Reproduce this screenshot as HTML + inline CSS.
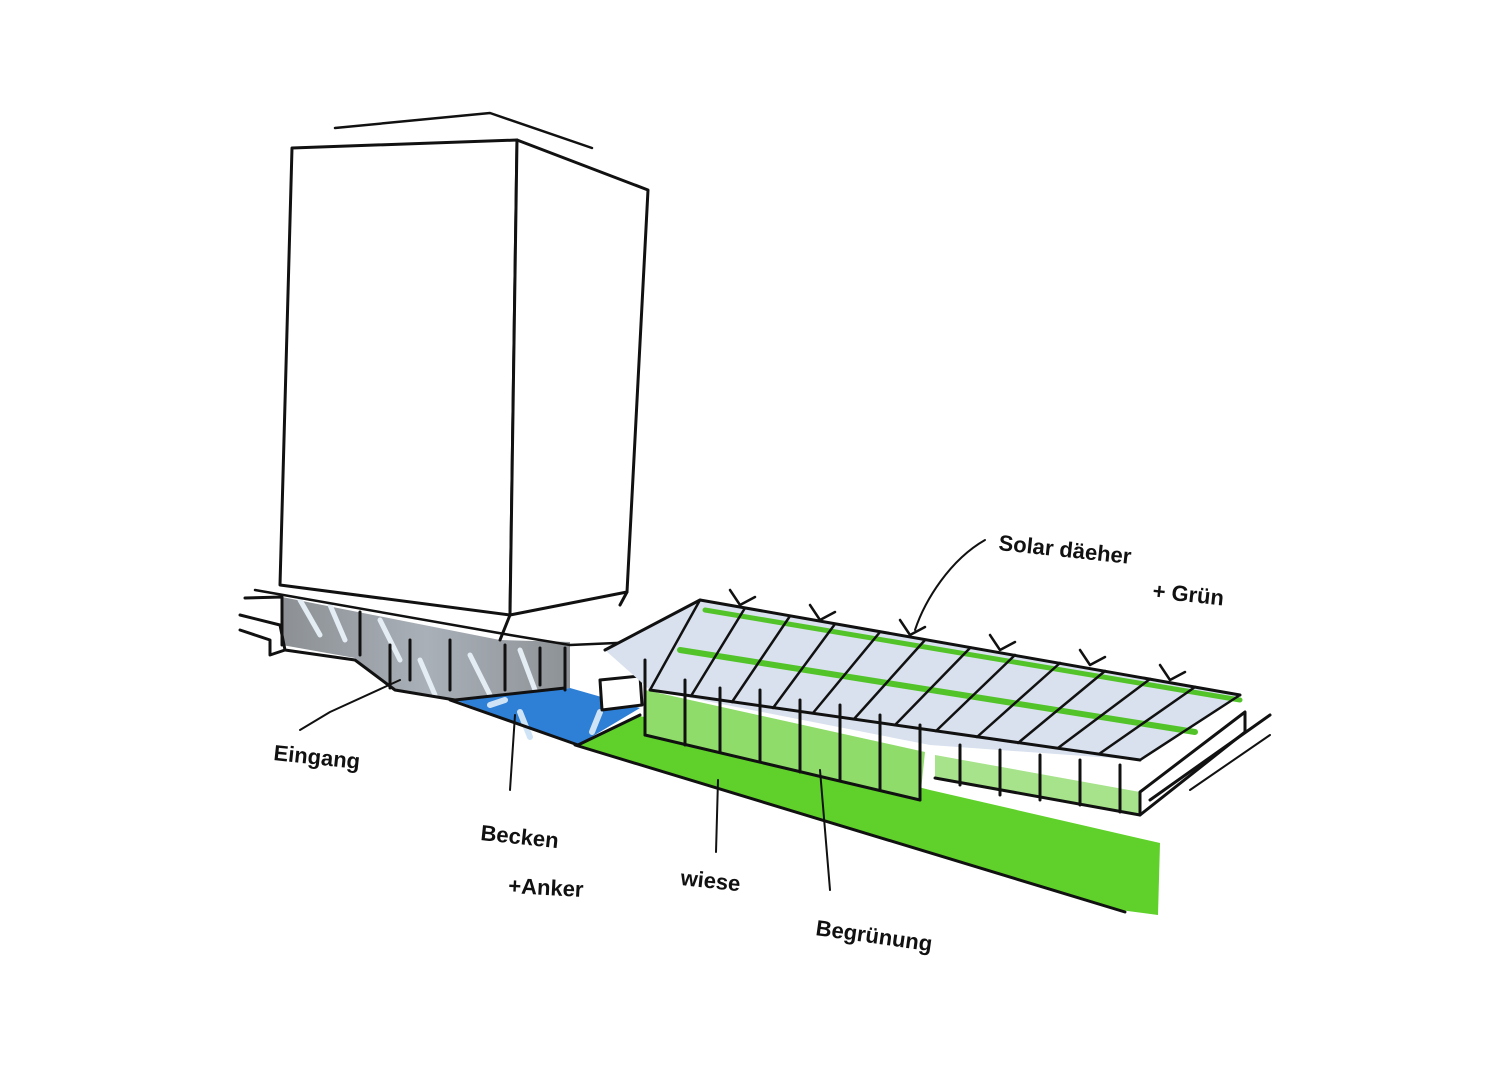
<!DOCTYPE html>
<html><head><meta charset="utf-8"><style>
html,body{margin:0;padding:0;background:#fff;}
svg{display:block;}
text{font-family:"Liberation Sans",sans-serif;font-weight:bold;fill:#111;}
</style></head><body>
<svg width="1512" height="1080" viewBox="0 0 1512 1080" xmlns="http://www.w3.org/2000/svg">
<defs>
<linearGradient id="gr" x1="0" y1="0" x2="1" y2="0">
<stop offset="0" stop-color="#8c9094"/><stop offset="0.5" stop-color="#a9b0b8"/><stop offset="1" stop-color="#8d9296"/></linearGradient>
</defs>
<g fill="none" stroke="#111" stroke-width="3" stroke-linecap="round" stroke-linejoin="round">
<path d="M335,128 L490,113 L592,148" stroke-width="2.5"/>
<!-- lawn -->
<path d="M575,745 L640,716 L930,790 L1160,843 L1158,915 L1120,910 Z" fill="#5fd12a" stroke="none"/>
<path d="M575,745 L1125,912" />
<!-- pool -->
<path d="M455,700 L570,688 L640,708 L578,745 Z" fill="#2e7fd6" stroke="none"/>
<path d="M490,705 l15,-5 M520,712 l10,25 M600,712 l-8,20" stroke="#cfe3f6" stroke-width="6"/>
<path d="M450,700 L578,745 L640,715"/>
<!-- base grey band -->
<path d="M282,597 L500,640 L570,642 L570,688 L455,700 L392,688 L355,658 L282,645 Z" fill="url(#gr)" stroke="none"/>
<path d="M300,600 l20,35 M330,605 l15,35 M380,620 l20,40 M420,660 l15,35 M470,655 l20,40 M520,650 l15,40" stroke="#e4ecf4" stroke-width="5"/>
<path d="M240,615 L280,625 L285,650 L355,660 L395,690 L455,700 L565,688"/>
<path d="M245,598 L282,597 M282,597 L282,645 M360,612 L360,655 M390,645 L390,688 M410,640 L410,680 M450,640 L450,690 M505,645 L505,690 M540,648 L540,685 M565,648 L565,690"/>
<path d="M240,630 L270,640 L270,655 L285,650"/>
<path d="M255,590 L510,635 L570,645 L640,642 L655,630" stroke-width="2.5"/>
<!-- tower -->
<path d="M292,148 L517,140 L510,615 L280,585 Z" fill="#fff"/>
<path d="M517,140 L648,190 L627,592 L510,615" fill="#fff"/>
<path d="M517,140 L510,615" stroke-width="3"/>
<path d="M510,615 L500,640 M627,592 L620,605"/>
<!-- entrance box -->
<path d="M600,680 L640,676 L642,705 L602,710 Z" fill="#fff"/>
<!-- greenhouse walls -->
<path d="M645,690 L925,752 L920,800 L645,735 Z" fill="#8fdc6a" stroke="none"/>
<path d="M935,755 L1140,792 L1140,815 L935,778 Z" fill="#a6e38a" stroke="none"/>
<path d="M645,735 L920,800 M935,778 L1140,815"/>
<!-- roof -->
<path d="M605,650 L700,600 L1240,695 L1140,760 L930,745 L650,690 Z" fill="#d9e1ee" stroke="none"/>
<path d="M680,650 L1195,732" stroke="#52c42a" stroke-width="6"/>
<path d="M705,610 L1240,700" stroke="#52c42a" stroke-width="5"/>
<path d="M650,690 L1140,760 M700,600 L1240,695 M605,650 L700,600"/>
<path d="M650,690 L700,600 M691,696 L745,608 M732,702 L790,616 M773,708 L835,624 M813,713 L880,632 M854,719 L925,640 M895,725 L970,648 M936,731 L1015,655 M977,737 L1060,663 M1018,743 L1105,671 M1058,748 L1150,679 M1099,754 L1195,687 M1140,760 L1240,695" stroke-width="2.5"/>
<path d="M730,590 l10,15 l15,-8 M810,605 l10,15 l15,-8 M900,620 l10,15 l15,-8 M990,635 l10,15 l15,-8 M1080,650 l10,15 l15,-8 M1160,665 l10,15 l15,-8" stroke-width="2.5"/>
<!-- posts -->
<path d="M645,660 L645,735 M685,680 L685,745 M720,688 L720,752 M760,690 L760,762 M800,700 L800,772 M840,705 L840,780 M880,715 L880,790 M920,725 L920,800 M960,745 L960,785 M1000,750 L1000,795 M1040,755 L1040,800 M1080,760 L1080,805 M1120,765 L1120,812"/>
<!-- slab -->
<path d="M1140,792 L1245,712 L1245,732 L1140,815 Z" fill="#fff"/>
<path d="M1150,800 L1270,715"/>
<path d="M1190,790 L1270,735" stroke-width="2"/>
<!-- leaders -->
<path d="M400,680 L330,712 L300,730" stroke-width="2"/>
<path d="M515,715 L510,790" stroke-width="2"/>
<path d="M718,780 L716,852" stroke-width="2"/>
<path d="M820,770 L830,890" stroke-width="2"/>
<path d="M985,540 C950,560 925,600 915,630" stroke-width="2"/>
</g>
<g font-size="22">
<text x="273" y="760" transform="rotate(6 273 760)">Eingang</text>
<text x="480" y="840" transform="rotate(6 480 840)">Becken</text>
<text x="508" y="893" transform="rotate(3 508 893)">+Anker</text>
<text x="680" y="885" transform="rotate(6 680 885)">wiese</text>
<text x="815" y="935" transform="rotate(8 815 935)">Begrünung</text>
<text x="998" y="550" transform="rotate(6 998 550)">Solar däeher</text>
<text x="1152" y="598" transform="rotate(6 1152 598)">+ Grün</text>
</g>
</svg>
</body></html>
